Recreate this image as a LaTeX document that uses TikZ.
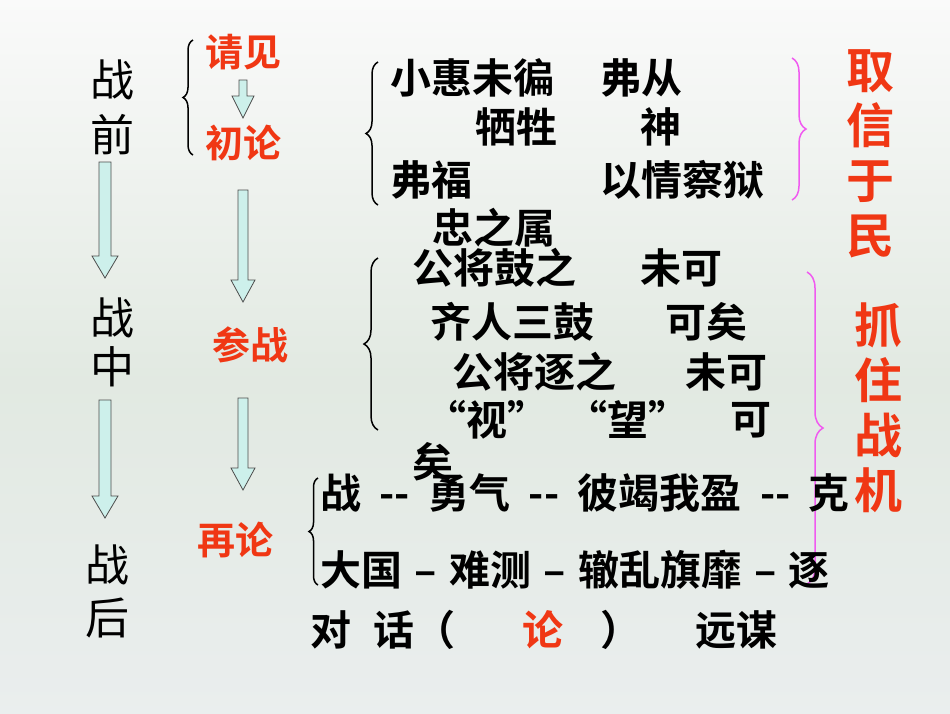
\documentclass[tikz,border=0pt]{standalone}
\usepackage{fontspec}
\newfontfamily\cjk{Noto Sans CJK SC}
\newfontfamily\cjkb{Noto Sans CJK SC}[BoldFont={Noto Sans CJK SC Bold}]
\usetikzlibrary{decorations.pathreplacing}
\definecolor{redt}{RGB}{240,55,20}
\definecolor{pinkb}{RGB}{240,90,240}
\definecolor{arrf}{RGB}{205,240,235}
\begin{document}
\begin{tikzpicture}[x=1pt,y=-1pt,
  bt/.style={font=\cjkb\bfseries\fontsize{41}{42}\selectfont,anchor=west,inner sep=0},
  lt/.style={font=\cjk\fontsize{44}{46}\selectfont,inner sep=0},
  rt/.style={font=\cjkb\bfseries\fontsize{38}{40}\selectfont,text=redt,inner sep=0},
  big/.style={font=\cjkb\bfseries\fontsize{48}{55}\selectfont,text=redt,inner sep=0,align=center},
  dar/.style={draw=black!70,fill=arrf,line width=0.8pt},
  br/.style={decorate,decoration={brace,amplitude=#1},line width=1.5pt},
  pbr/.style={decorate,decoration={brace,amplitude=#1},line width=1.5pt,draw=pinkb}]
\fill[top color=white!96!gray,bottom color=green!15!gray!20] (0,0) rectangle (950,380);
\fill[top color=green!15!gray!20,bottom color=cyan!10!gray!15] (0,380) rectangle (950,713);
\useasboundingbox (0,0) rectangle (950,713);
\newcommand\darrow[4]{% x, ytop, ybottom, halfwidth
  \draw[dar] (#1-#4,#2) -- (#1+#4,#2) -- (#1+#4,#3-22) -- (#1+#4+7,#3-22) -- (#1,#3) -- (#1-#4-7,#3-22) -- (#1-#4,#3-22) -- cycle;}
\newcommand\dd{\hspace{0.45em}--\hspace{0.45em}}
\newcommand\sd{\hspace{0.3em}–\hspace{0.3em}}
% left labels
\node[lt] (q1) at (112,80) {战}; \node[lt] (q2) at (112,135) {前};
\node[lt] (z1) at (112,318) {战}; \node[lt] (z2) at (112,367) {中};
\node[lt] (h1) at (107,565) {战}; \node[lt] (h2) at (107,618) {后};
\node[rt] (qj) at (243,52) {请见};
\node[rt] (cl) at (243,143) {初论};
\node[rt] (cz) at (250,345) {参战};
\node[rt] (zl) at (235,540) {再论};
\darrow{105}{162}{278}{6}
\darrow{105}{400}{518}{6}
\darrow{243}{80}{118}{4}
\darrow{243}{190}{302}{5}
\darrow{243}{398}{490}{5}
\draw[br=10pt] (193,155) -- (193,40);
\draw[br=12pt] (378,205) -- (378,62);
\draw[br=14pt] (378,430) -- (378,258);
\draw[br=9pt] (318,585) -- (318,478);
\draw[pbr=14pt] (792,58) -- (792,200);
\draw[pbr=16pt] (807,272) -- (807,584);
% block 1
\node[bt] (t1) at (390,78) {小惠未徧};
\node[bt] (t2) at (600,78) {弗从};
\node[bt] (t3) at (475,127) {牺牲};
\node[bt] (t4) at (640,127) {神};
\node[bt] (t5) at (390,180) {弗福};
\node[bt] (t6) at (600,180) {以情察狱};
\node[bt] (t7) at (432,228) {忠之属};
\node[big] (x1) at (870,154) {取\\信\\于\\民};
% block 2
\node[bt] (s1) at (412,268) {公将鼓之};
\node[bt] (s2) at (640,268) {未可};
\node[bt] (s3) at (430,322) {齐人三鼓};
\node[bt] (s4) at (665,322) {可矣};
\node[bt] (s5) at (452,372) {公将逐之};
\node[bt] (s6) at (685,372) {未可};
\node[bt] (s7) at (425,420) {“视”\ \ “望”};
\node[bt] (s8) at (730,420) {可};
\node[bt] (s9) at (412,462) {矣};
\node[big] (x2) at (878,408) {抓\\住\\战\\机};
% block 3
\node[bt] (r1) at (320,493) {战\dd 勇气\dd 彼竭我盈\dd 克};
\node[bt] (r2) at (320,570) {大国\sd 难测\sd 辙乱旗靡\sd 逐};
\node[bt] (d1) at (310,630) {对};
\node[bt] (d2) at (373,630) {话（};
\node[bt,text=redt] (d3) at (522,630) {论};
\node[bt] (d4) at (600,630) {）};
\node[bt] (d5) at (695,630) {远谋};
\end{tikzpicture}
\end{document}
